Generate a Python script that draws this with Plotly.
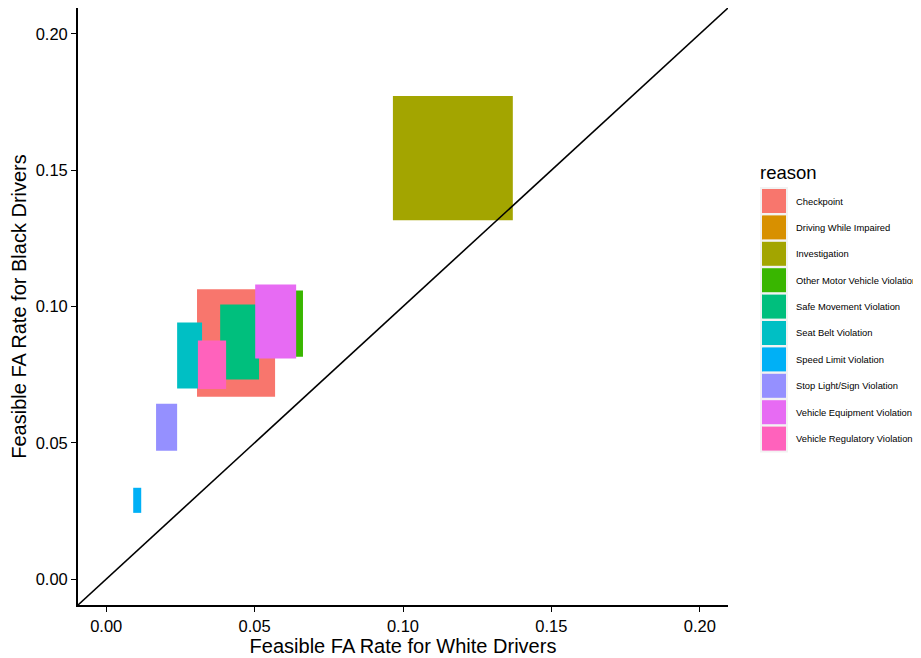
import plotly.graph_objects as go

reasons = ["Checkpoint", "Driving While Impaired", "Investigation",
           "Other Motor Vehicle Violation", "Safe Movement Violation",
           "Seat Belt Violation", "Speed Limit Violation",
           "Stop Light/Sign Violation", "Vehicle Equipment Violation",
           "Vehicle Regulatory Violation"]
white_min = [0.0306, 0.1050, 0.0966, 0.0560, 0.0384, 0.0239, 0.0091, 0.0168, 0.0502, 0.0309]
white_max = [0.0569, 0.1250, 0.1370, 0.0663, 0.0515, 0.0323, 0.0118, 0.0239, 0.0640, 0.0404]
black_min = [0.0669, 0.1400, 0.1316, 0.0816, 0.0732, 0.0699, 0.0243, 0.0471, 0.0809, 0.0697]
black_max = [0.1063, 0.1650, 0.1772, 0.1059, 0.1007, 0.0941, 0.0335, 0.0643, 0.1081, 0.0875]
colors = ["#F8766D", "#D89000", "#A3A500", "#39B600", "#00BF7D",
          "#00BFC4", "#00B0F6", "#9590FF", "#E76BF3", "#FF62BC"]
tick_vals = [0.00, 0.05, 0.10, 0.15, 0.20]
axis_range = [-0.0095, 0.2095]

# page body has an 8px margin, so the figure is drawn 8px smaller
OFF = 8
W, H = 921 - OFF, 658 - OFF
ML, MR, MT, MB = 70, 193, 0, 53
PW, PH = W - ML - MR, H - MT - MB


def px(xp):
    return (xp - OFF - ML) / PW


def py(yp):
    return (H - MB - (yp - OFF)) / PH


fig = go.Figure()
for i, r in enumerate(reasons):
    x0, x1, y0, y1 = white_min[i], white_max[i], black_min[i], black_max[i]
    fig.add_trace(go.Scatter(
        x=[x0, x1, x1, x0, x0], y=[y0, y0, y1, y1, y0],
        mode="lines", fill="toself", fillcolor=colors[i],
        line=dict(width=0, color=colors[i]), name=r,
        showlegend=False, hoverinfo="name"))

fig.add_trace(go.Scatter(x=axis_range, y=axis_range, mode="lines",
                         line=dict(color="black", width=1.6),
                         showlegend=False, hoverinfo="skip"))

# manual ggplot-style legend
shapes = []
annotations = []
key_top, key_pitch, key_size = 189, 26.4, 24
shapes.append(dict(type="rect", xref="paper", yref="paper",
                   x0=px(760), x1=px(788), y0=py(key_top - 2),
                   y1=py(key_top + 9 * key_pitch + key_size + 2),
                   fillcolor="#F2F2F2", line=dict(width=0), layer="below"))
annotations.append(dict(text="reason", xref="paper", yref="paper",
                        x=px(758), y=py(172), xanchor="left", yanchor="middle",
                        showarrow=False, font=dict(size=18.5, color="black")))
for i, r in enumerate(reasons):
    t = key_top + i * key_pitch
    shapes.append(dict(type="rect", xref="paper", yref="paper",
                       x0=px(762), x1=px(786), y0=py(t), y1=py(t + key_size),
                       fillcolor=colors[i], line=dict(width=0)))
    annotations.append(dict(text=r, xref="paper", yref="paper",
                            x=px(794), y=py(t + key_size / 2),
                            xanchor="left", yanchor="middle", showarrow=False,
                            font=dict(size=9.4, color="black")))

axis_common = dict(range=axis_range, tickvals=tick_vals, tickformat=".2f",
                   showgrid=False, zeroline=False, showline=True,
                   linecolor="black", linewidth=1.8, ticks="outside",
                   ticklen=5, tickcolor="black", tickwidth=1,
                   tickfont=dict(size=16.5, color="black"), automargin=False)

fig.update_layout(
    width=W, height=H,
    margin=dict(l=ML, r=MR, t=MT, b=MB),
    plot_bgcolor="white", paper_bgcolor="white",
    font=dict(family="Liberation Sans, Arial, sans-serif", color="black"),
    xaxis=dict(title=dict(text="Feasible FA Rate for White Drivers",
                          font=dict(size=20), standoff=2), **axis_common),
    yaxis=dict(title=dict(text="Feasible FA Rate for Black Drivers",
                          font=dict(size=20), standoff=6), **axis_common),
    shapes=shapes, annotations=annotations,
    showlegend=False,
)

fig.write_html("out.html")
